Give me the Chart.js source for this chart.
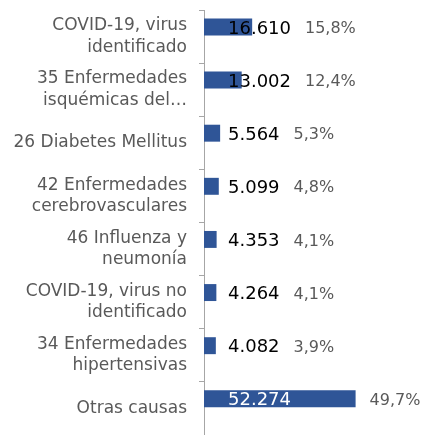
<!DOCTYPE html>
<html>
<head>
<meta charset="utf-8">
<script src="https://cdn.jsdelivr.net/npm/chart.js@4/dist/chart.umd.min.js"></script>
<style>
  html, body { margin: 0; padding: 0; background: #fff; }
  canvas { display: block; }
</style>
</head>
<body>
<canvas id="chart" width="421" height="435"></canvas>
<script>
const categories = [
  ['COVID-19, virus', 'identificado'],
  ['35 Enfermedades', 'isquémicas del…'],
  ['26 Diabetes Mellitus'],
  ['42 Enfermedades', 'cerebrovasculares'],
  ['46 Influenza y', 'neumonía'],
  ['COVID-19, virus no', 'identificado'],
  ['34 Enfermedades', 'hipertensivas'],
  ['Otras causas']
];
const deaths = [16610, 13002, 5564, 5099, 4353, 4264, 4082, 52274];
const shares = [15.8, 12.4, 5.3, 4.8, 4.1, 4.1, 3.9, 49.7];

const FONT = "'DejaVu Sans', sans-serif";
const BAR_COLOR = '#2F5597';

const fmtCount = v => v.toLocaleString('es-CL').replace(/,/g, '.');
const fmtShare = v => v.toFixed(1).replace('.', ',') + '%';

// draws the count and percent labels next to each bar
const labelPlugin = {
  id: 'barLabels',
  afterDatasetsDraw(chart) {
    const ctx = chart.ctx;
    const meta = chart.getDatasetMeta(0);
    const left = chart.chartArea.left;
    ctx.save();
    ctx.textBaseline = 'middle';
    ctx.textAlign = 'left';
    meta.data.forEach((bar, i) => {
      const y = bar.y + 2;
      const countText = fmtCount(deaths[i]);
      ctx.font = '18px ' + FONT;
      const countX = left + 24;
      const countEnd = countX + ctx.measureText(countText).width;
      ctx.fillStyle = bar.x > countEnd ? '#ffffff' : '#000000';
      ctx.fillText(countText, countX, y);

      ctx.font = '16px ' + FONT;
      ctx.fillStyle = '#595959';
      ctx.fillText(fmtShare(shares[i]), Math.max(countEnd, bar.x) + 14, y);
    });
    ctx.restore();
  }
};

new Chart(document.getElementById('chart'), {
  type: 'bar',
  data: {
    labels: categories,
    datasets: [
      {
        label: 'Defunciones',
        data: deaths,
        backgroundColor: BAR_COLOR,
        categoryPercentage: 0.725,
        barPercentage: 0.88
      },
      {
        label: '%',
        data: shares,
        backgroundColor: 'rgba(0,0,0,0)',
        categoryPercentage: 0.725,
        barPercentage: 0.88
      }
    ]
  },
  options: {
    indexAxis: 'y',
    responsive: false,
    animation: false,
    layout: { padding: { top: 10, right: 14, bottom: 0, left: 0 } },
    plugins: { legend: { display: false }, tooltip: { enabled: false } },
    scales: {
      x: { display: false, min: 0, max: 70000 },
      y: {
        afterFit: scale => {
          scale.width = 204;
          scale.paddingTop = 0;
          scale.paddingBottom = 0;
        },
        border: { display: true, color: '#A6A6A6', width: 1 },
        grid: { display: true, drawOnChartArea: false, drawTicks: true, tickLength: 5, color: '#A6A6A6', offset: true },
        ticks: {
          color: '#595959',
          padding: 12,
          font: { family: FONT, size: 17, lineHeight: 1.25 }
        }
      }
    }
  },
  plugins: [labelPlugin]
});
</script>
</body>
</html>
